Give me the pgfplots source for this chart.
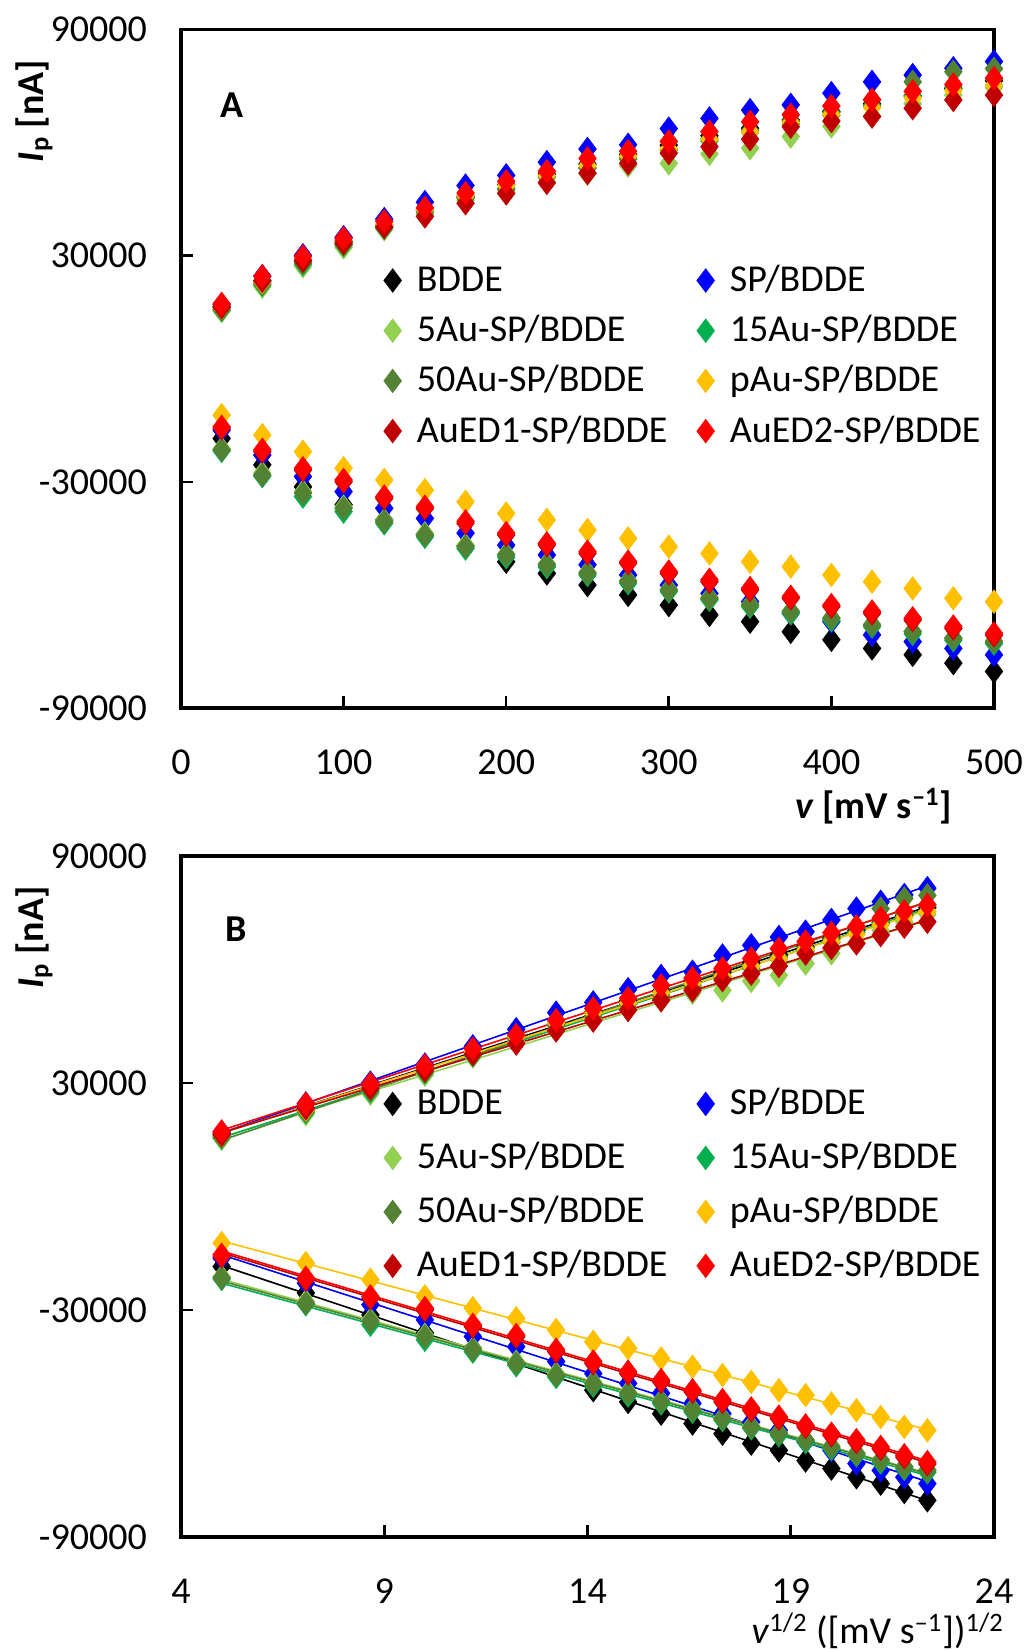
\documentclass[border=0pt]{standalone}
\usepackage{fontspec}
\setmainfont{Carlito}
\usepackage{pgfplots}
\usepackage{pgfplotstable}
\pgfplotsset{compat=1.18}

\definecolor{cBD}{RGB}{0,0,0}
\definecolor{cSP}{RGB}{0,0,255}
\definecolor{cAf}{RGB}{146,208,80}
\definecolor{cAff}{RGB}{0,176,80}
\definecolor{cAfz}{RGB}{84,130,53}
\definecolor{cpAu}{RGB}{255,192,0}
\definecolor{cEDa}{RGB}{192,0,0}
\definecolor{cEDb}{RGB}{255,0,0}

% anodic peak currents (nA)
\pgfplotstableread{
v s BD SP A5 A15 A50 pAu ED1 ED2
25 5.000 16500 17000 15300 15600 15800 16200 16300 17200
50 7.071 23300 24600 21800 22300 22600 23000 23300 24500
75 8.660 28900 30100 27200 27800 28200 28700 28600 29800
100 10.000 33800 34900 32200 32800 33100 33500 33300 34600
125 11.180 38200 39700 37000 37400 37700 38300 37600 39100
150 12.247 42300 44200 41000 41600 42000 42200 40400 42700
175 13.229 45800 48600 44700 45300 45400 45900 43900 46600
200 14.142 48800 51300 46800 47800 47600 48600 46500 49700
225 15.000 51700 54800 49500 50800 51000 51200 49300 52400
250 15.811 54300 58300 51800 53200 53300 53900 51900 55800
275 16.583 56800 59400 53900 55600 55900 56400 54500 57700
300 17.321 59300 63700 54500 58000 58200 58300 57200 60300
325 18.028 61800 66400 57000 60400 61000 60800 58900 62900
350 18.708 63800 68600 58500 62700 63200 62800 60900 65500
375 19.365 66000 70000 61600 64900 65700 65300 64200 67400
400 20.000 68300 73100 64300 67200 68000 67400 65700 69700
425 20.616 70300 76100 67000 69800 71300 69300 66900 71400
450 21.213 72400 77900 70300 72300 76100 71800 69100 73600
475 21.794 74300 79700 72600 74700 78800 73800 71300 75400
500 22.361 76400 81500 74600 77000 79600 75300 72600 77100
}\anod

% cathodic peak currents (nA)
\pgfplotstableread{
v s BD SP A5 A15 A50 pAu ED1 ED2
25 5.000 -18500 -16300 -21200 -21800 -21500 -12300 -15800 -15400
50 7.071 -25500 -22900 -27700 -28500 -28200 -17600 -22000 -21500
75 8.660 -31300 -28600 -32600 -33900 -33000 -22000 -26900 -26400
100 10.000 -36100 -32600 -36600 -37900 -37000 -26400 -30000 -29500
125 11.180 -40100 -37000 -40200 -41000 -40500 -29500 -34400 -33900
150 12.247 -44000 -39700 -43700 -44600 -44100 -32200 -37100 -36600
175 13.229 -47000 -43600 -46800 -47700 -47200 -35300 -41000 -40500
200 14.142 -51200 -46800 -49100 -50000 -49400 -38400 -44100 -43600
225 15.000 -54300 -49400 -51700 -52600 -52000 -40100 -46800 -46300
250 15.811 -57400 -52000 -54000 -54700 -54200 -42800 -49000 -48500
275 16.583 -60000 -54700 -56200 -56900 -56400 -45000 -51600 -51200
300 17.321 -62700 -57400 -58500 -59100 -58700 -47200 -54300 -53800
325 18.028 -65300 -59600 -60700 -61300 -60900 -49000 -56500 -56000
350 18.708 -67100 -61800 -62500 -63100 -62600 -51200 -58700 -58200
375 19.365 -69800 -64900 -64300 -64900 -64400 -52500 -60900 -60500
400 20.000 -71900 -67100 -66000 -66700 -66200 -54700 -63100 -62700
425 20.616 -74200 -70600 -67800 -68400 -68000 -56500 -64900 -64400
450 21.213 -75900 -72400 -69700 -70300 -69700 -58300 -66700 -66200
475 21.794 -78100 -74200 -71400 -72000 -71500 -60900 -68900 -68400
500 22.361 -80300 -75900 -72200 -72900 -72400 -61800 -70700 -70200
}\cath

\newcommand{\fs}{\fontsize{19}{22}\selectfont}

\pgfplotsset{
  panel/.style={
    scale only axis, width=406.5pt,
    axis line style={line width=1.6pt},
    every tick/.style={black, line width=1.3pt},
    major tick length=6pt,
    tick align=inside,
    tick pos=left,
    scaled ticks=false,
    ymin=-90000, ymax=90000,
    ytick={-90000,-30000,30000,90000},
    yticklabels={-90000,-30000,30000,90000},
    tick label style={font=\fs},
    xticklabel style={yshift=-17.5pt},
    yticklabel style={xshift=-13.5pt},
    clip=false,
    legend columns=2,
    legend cell align=left,
    legend style={draw=none, fill=none, inner sep=0pt, font=\fs, anchor=north west,
      nodes={inner sep=2pt, text height=0.7em, text depth=0.2em},
      /tikz/every odd column/.append style={column sep=5.7pt},
      /tikz/every even column/.append style={column sep=12.7pt}},
  },
  mk/.style={only marks, mark=diamond*, mark size=5.9pt, color=#1,
    mark options={solid, fill=#1, draw=#1, line width=0.3pt},
    legend image code/.code={\draw[##1] plot coordinates {(0pt,3pt)};}},
  fit/.style={#1, line width=0.8pt, no marks, forget plot},
}

\begin{document}
\begin{tikzpicture}
\path[use as bounding box] (0,0) rectangle (513pt,825.5pt);

% ---------------- Panel A ----------------
\begin{axis}[panel, at={(90.5pt,471.5pt)}, anchor=south west, height=339.25pt,
  xmin=0, xmax=500, xtick={0,100,200,300,400,500}, xticklabels={0,100,200,300,400,500},
  xlabel={\textbf{\textit{v} [mV s\textsuperscript{–1}]}},
  xlabel style={at={(axis description cs:0.852,-0.1444)}, anchor=center, font=\fs},
  ylabel={\textbf{\textit{I}\textsubscript{p} [nA]}},
  ylabel style={at={(axis description cs:-0.1808,0.9654)}, anchor=east, font=\fs},
  legend style={at={(rel axis cs:0.249,0.648)}, row sep=9.7pt},
]
\addplot[mk=cBD] table[x=v,y=BD]\anod; \addlegendentry{BDDE}
\addplot[mk=cBD,forget plot] table[x=v,y=BD]\cath;
\addplot[mk=cSP] table[x=v,y=SP]\anod; \addlegendentry{SP/BDDE}
\addplot[mk=cSP,forget plot] table[x=v,y=SP]\cath;
\addplot[mk=cAf] table[x=v,y=A5]\anod; \addlegendentry{5Au-SP/BDDE}
\addplot[mk=cAf,forget plot] table[x=v,y=A5]\cath;
\addplot[mk=cAff] table[x=v,y=A15]\anod; \addlegendentry{15Au-SP/BDDE}
\addplot[mk=cAff,forget plot] table[x=v,y=A15]\cath;
\addplot[mk=cAfz] table[x=v,y=A50]\anod; \addlegendentry{50Au-SP/BDDE}
\addplot[mk=cAfz,forget plot] table[x=v,y=A50]\cath;
\addplot[mk=cpAu] table[x=v,y=pAu]\anod; \addlegendentry{pAu-SP/BDDE}
\addplot[mk=cpAu,forget plot] table[x=v,y=pAu]\cath;
\addplot[mk=cEDa] table[x=v,y=ED1]\anod; \addlegendentry{AuED1-SP/BDDE}
\addplot[mk=cEDa,forget plot] table[x=v,y=ED1]\cath;
\addplot[mk=cEDb] table[x=v,y=ED2]\anod; \addlegendentry{AuED2-SP/BDDE}
\addplot[mk=cEDb,forget plot] table[x=v,y=ED2]\cath;
\node[font=\fs\bfseries] at (rel axis cs:0.0627,0.8887) {A};
\end{axis}

% ---------------- Panel B ----------------
\begin{axis}[panel, at={(90.5pt,57pt)}, anchor=south west, height=340.5pt,
  xmin=4, xmax=24, xtick={4,9,14,19,24}, xticklabels={4,9,14,19,24},
  xlabel={\textit{v}\textsuperscript{1/2} ([mV s\textsuperscript{–1}])\textsuperscript{1/2}},
  xlabel style={at={(axis description cs:0.857,-0.138)}, anchor=center, font=\fs},
  ylabel={\textbf{\textit{I}\textsubscript{p} [nA]}},
  ylabel style={at={(axis description cs:-0.1808,0.9654)}, anchor=east, font=\fs},
  legend style={at={(rel axis cs:0.249,0.6539)}, row sep=11.6pt},
]
\addplot[mk=cBD] table[x=s,y=BD]\anod; \addlegendentry{BDDE}
\addplot[mk=cBD,forget plot] table[x=s,y=BD]\cath;
\addplot[mk=cSP] table[x=s,y=SP]\anod; \addlegendentry{SP/BDDE}
\addplot[mk=cSP,forget plot] table[x=s,y=SP]\cath;
\addplot[mk=cAf] table[x=s,y=A5]\anod; \addlegendentry{5Au-SP/BDDE}
\addplot[mk=cAf,forget plot] table[x=s,y=A5]\cath;
\addplot[mk=cAff] table[x=s,y=A15]\anod; \addlegendentry{15Au-SP/BDDE}
\addplot[mk=cAff,forget plot] table[x=s,y=A15]\cath;
\addplot[mk=cAfz] table[x=s,y=A50]\anod; \addlegendentry{50Au-SP/BDDE}
\addplot[mk=cAfz,forget plot] table[x=s,y=A50]\cath;
\addplot[mk=cpAu] table[x=s,y=pAu]\anod; \addlegendentry{pAu-SP/BDDE}
\addplot[mk=cpAu,forget plot] table[x=s,y=pAu]\cath;
\addplot[mk=cEDa] table[x=s,y=ED1]\anod; \addlegendentry{AuED1-SP/BDDE}
\addplot[mk=cEDa,forget plot] table[x=s,y=ED1]\cath;
\addplot[mk=cEDb] table[x=s,y=ED2]\anod; \addlegendentry{AuED2-SP/BDDE}
\addplot[mk=cEDb,forget plot] table[x=s,y=ED2]\cath;
% linear fits
\addplot[fit=cBD] table[x=s,y={create col/linear regression={x=s,y=BD}}]\anod;
\addplot[fit=cBD] table[x=s,y={create col/linear regression={x=s,y=BD}}]\cath;
\addplot[fit=cSP] table[x=s,y={create col/linear regression={x=s,y=SP}}]\anod;
\addplot[fit=cSP] table[x=s,y={create col/linear regression={x=s,y=SP}}]\cath;
\addplot[fit=cAf] table[x=s,y={create col/linear regression={x=s,y=A5}}]\anod;
\addplot[fit=cAf] table[x=s,y={create col/linear regression={x=s,y=A5}}]\cath;
\addplot[fit=cAff] table[x=s,y={create col/linear regression={x=s,y=A15}}]\anod;
\addplot[fit=cAff] table[x=s,y={create col/linear regression={x=s,y=A15}}]\cath;
\addplot[fit=cAfz] table[x=s,y={create col/linear regression={x=s,y=A50}}]\anod;
\addplot[fit=cAfz] table[x=s,y={create col/linear regression={x=s,y=A50}}]\cath;
\addplot[fit=cpAu] table[x=s,y={create col/linear regression={x=s,y=pAu}}]\anod;
\addplot[fit=cpAu] table[x=s,y={create col/linear regression={x=s,y=pAu}}]\cath;
\addplot[fit=cEDa] table[x=s,y={create col/linear regression={x=s,y=ED1}}]\anod;
\addplot[fit=cEDa] table[x=s,y={create col/linear regression={x=s,y=ED1}}]\cath;
\addplot[fit=cEDb] table[x=s,y={create col/linear regression={x=s,y=ED2}}]\anod;
\addplot[fit=cEDb] table[x=s,y={create col/linear regression={x=s,y=ED2}}]\cath;
\node[font=\fs\bfseries] at (rel axis cs:0.0677,0.8928) {B};
\end{axis}
\end{tikzpicture}
\end{document}
